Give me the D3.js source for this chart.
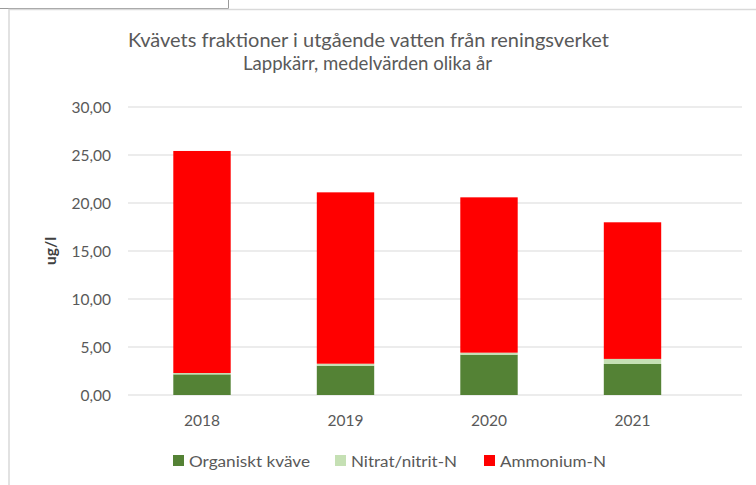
<!DOCTYPE html>
<html>
<head>
<meta charset="utf-8">
<script src="https://cdn.jsdelivr.net/npm/d3@7"></script>
<style>
  body { margin: 0; background: #fff; }
  text { font-family: Lato, "Open Sans", sans-serif; }
</style>
</head>
<body>
<div id="chart"></div>
<script>
// data
const years = ["2018", "2019", "2020", "2021"];
const organiskt = [2.15, 3.05, 4.2, 3.23];
const nitrat = [0.14, 0.21, 0.21, 0.53];
const ammonium = [23.13, 17.85, 16.18, 14.23];
const yTicks = [0, 5, 10, 15, 20, 25, 30];
const seriesNames = ["Organiskt kväve", "Nitrat/nitrit-N", "Ammonium-N"];
const colors = ["#548235", "#c5e0b4", "#ff0000"];

const W = 756, H = 485;

const svg = d3.select("#chart").append("svg")
    .attr("width", W)
    .attr("height", H);

// spreadsheet cell edge + chart border
svg.append("path")
    .attr("d", "M0,8.5H228.5V0")
    .attr("fill", "none")
    .attr("stroke", "#9a9a9a")
    .attr("stroke-width", 1);
svg.append("path")
    .attr("d", `M9,${H}V9.5H${W}`)
    .attr("fill", "none")
    .attr("stroke", "#d9d9d9")
    .attr("stroke-width", 1.5);

const x = d3.scaleBand()
    .domain(years)
    .range([130.25, 704.25])
    .paddingInner(0.6)
    .paddingOuter(0.3);

const y = d3.scaleLinear().domain([0, 30]).range([395, 107]);

// grid lines
svg.append("g")
    .selectAll("line")
    .data(yTicks)
    .enter().append("line")
    .attr("x1", 128)
    .attr("x2", 742)
    .attr("y1", d => y(d))
    .attr("y2", d => y(d))
    .attr("stroke", "#d9d9d9")
    .attr("stroke-width", 1);

// y tick labels
svg.append("g")
    .selectAll("text")
    .data(yTicks)
    .enter().append("text")
    .attr("x", 111)
    .attr("y", d => y(d) + 5.5)
    .attr("text-anchor", "end")
    .style("font-size", "15.5px")
    .style("fill", "#595959")
    .text(d => d3.format(".2f")(d).replace(".", ","));

// stacked bars
const table = years.map((yr, i) => ({
    year: yr, org: organiskt[i], nit: nitrat[i], amm: ammonium[i]
}));
const stack = d3.stack().keys(["org", "nit", "amm"])(table);

svg.append("g")
    .selectAll("g")
    .data(stack)
    .enter().append("g")
    .attr("fill", (d, i) => colors[i])
    .selectAll("rect")
    .data(d => d)
    .enter().append("rect")
    .attr("x", d => x(d.data.year))
    .attr("width", x.bandwidth())
    .attr("y", d => y(d[1]))
    .attr("height", d => y(d[0]) - y(d[1]));

// x labels
svg.append("g")
    .selectAll("text")
    .data(years)
    .enter().append("text")
    .attr("x", d => x(d) + x.bandwidth() / 2)
    .attr("y", 426)
    .attr("text-anchor", "middle")
    .style("font-size", "15.5px")
    .style("fill", "#595959")
    .text(d => d);

// titles
svg.append("text")
    .attr("x", 368.5)
    .attr("y", 47)
    .attr("text-anchor", "middle")
    .attr("textLength", 481)
    .attr("lengthAdjust", "spacingAndGlyphs")
    .style("font-size", "19px")
    .style("fill", "#595959")
    .text("Kvävets fraktioner i utgående vatten från reningsverket");
svg.append("text")
    .attr("x", 367.5)
    .attr("y", 70)
    .attr("text-anchor", "middle")
    .attr("textLength", 249)
    .attr("lengthAdjust", "spacingAndGlyphs")
    .style("font-size", "19px")
    .style("fill", "#595959")
    .text("Lappkärr, medelvärden olika år");

// y axis title
svg.append("text")
    .attr("transform", "translate(56,251) rotate(-90)")
    .attr("text-anchor", "middle")
    .style("font-size", "15.5px")
    .style("font-weight", "bold")
    .style("fill", "#404040")
    .text("ug/l");

// legend
const legendX = [173, 335, 484];
const legendW = [121, 106, 106];
const legend = svg.append("g")
    .selectAll("g")
    .data(seriesNames)
    .enter().append("g")
    .attr("transform", (d, i) => `translate(${legendX[i]},0)`);
legend.append("rect")
    .attr("y", 455)
    .attr("width", 11)
    .attr("height", 11)
    .attr("fill", (d, i) => colors[i]);
legend.append("text")
    .attr("x", 16)
    .attr("y", 467)
    .attr("textLength", (d, i) => legendW[i])
    .attr("lengthAdjust", "spacingAndGlyphs")
    .style("font-size", "15.5px")
    .style("fill", "#595959")
    .text(d => d);
</script>
</body>
</html>
